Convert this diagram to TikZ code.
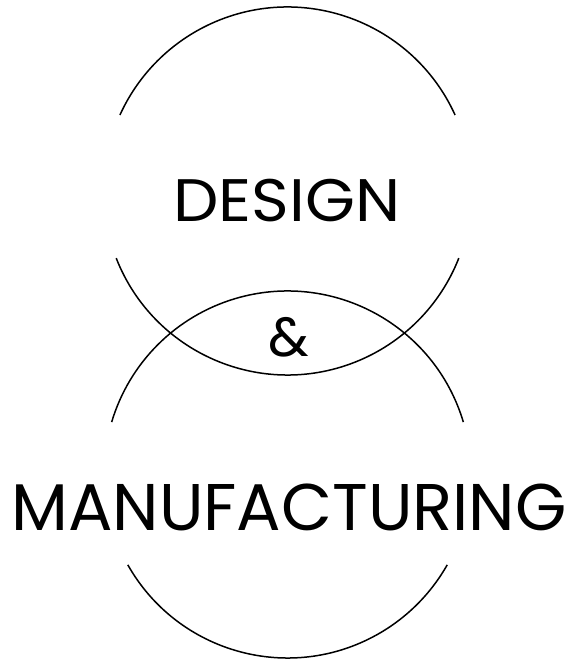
\documentclass[tikz,border=0pt]{standalone}
\usepackage{fontspec}
\setmainfont{Poppins}
\usetikzlibrary{calc}
\tikzset{
  ring/.style={line width=1.5pt, black},
  word/.style={inner sep=0pt, anchor=center, text=black}
}
\begin{document}
\begin{tikzpicture}[x=1pt,y=1pt]
\useasboundingbox (0,0) rectangle (569,663);
\coordinate (c1) at (287.5,472);
\coordinate (c2) at (287.5,188.5);
\draw[ring] ($(c1)+(24.4:184)$) arc[start angle=24.4, end angle=155.6, radius=184];
\draw[ring] ($(c1)+(201.4:184)$) arc[start angle=201.4, end angle=338.6, radius=184];
\draw[ring] ($(c2)+(16.6:183.5)$) arc[start angle=16.6, end angle=163.4, radius=183.5];
\draw[ring] ($(c2)+(209.5:183.5)$) arc[start angle=209.5, end angle=330.5, radius=183.5];
\node[word, font=\fontsize{60}{64}\selectfont] (design) at (287,462) {\scalebox{1.07}[1]{DESIGN}};
\node[word, font=\fontsize{55}{60}\selectfont] (amp) at (289,326) {\&};
\node[word, font=\fontsize{66}{70}\selectfont] (manu) at (289,156) {MANUFACTURING};
\end{tikzpicture}
\end{document}
